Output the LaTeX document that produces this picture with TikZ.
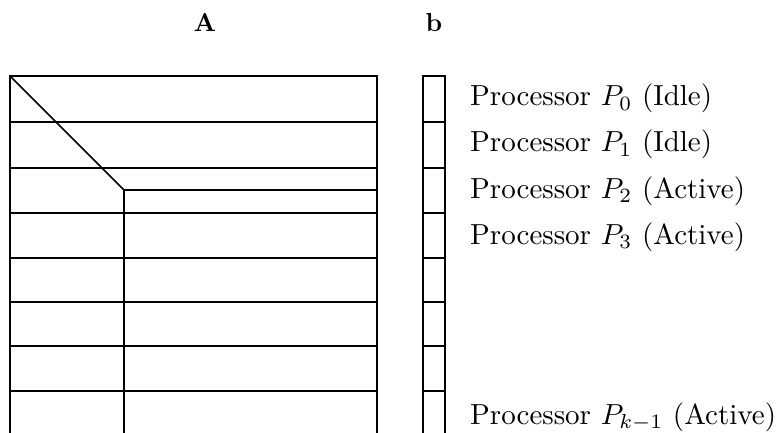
\documentclass[tikz,border=0pt]{standalone}
\newcommand{\bigtxt}[1]{\scalebox{2.9}{#1}}
\newcommand{\headtxt}[1]{\scalebox{2.6}{\bfseries #1}}
\begin{document}
\begin{tikzpicture}[x=1pt,y=-1pt,
  thin line/.style={line width=1.7pt},
  bold line/.style={line width=2.8pt},
  proc/.style={anchor=base west,inner sep=0pt},
  head/.style={anchor=base,inner sep=0pt}]
\useasboundingbox (0,0) rectangle (779,433);
% matrix A outline
\draw[thin line] (10,433) -- (10,76) -- (377,76) -- (377,433);
\foreach \y in {122,168,213,258,302,346,391}{
  \draw[thin line] (10,\y) -- (377,\y);
}
\draw[thin line] (10,76) -- (124,190);
\draw[bold line] (377,190) -- (124,190) -- (124,433);
% vector b
\draw[thin line] (423,433) -- (423,76) -- (445,76) -- (445,433);
\foreach \y in {122,168,213,258,302,346,391}{
  \draw[thin line] (423,\y) -- (445,\y);
}
% labels
\node[head] (lA) at (205,32) {\headtxt{A}};
\node[head] (lb) at (434,32) {\headtxt{b}};
\node[proc] (p0) at (470,106) {\bigtxt{Processor $P_0$ (Idle)}};
\node[proc] (p1) at (470,152) {\bigtxt{Processor $P_1$ (Idle)}};
\node[proc] (p2) at (470,198) {\bigtxt{Processor $P_2$ (Active)}};
\node[proc] (p3) at (470,244) {\bigtxt{Processor $P_3$ (Active)}};
\node[proc] (pk) at (470,424) {\bigtxt{Processor $P_{k-1}$ (Active)}};
\end{tikzpicture}
\end{document}
